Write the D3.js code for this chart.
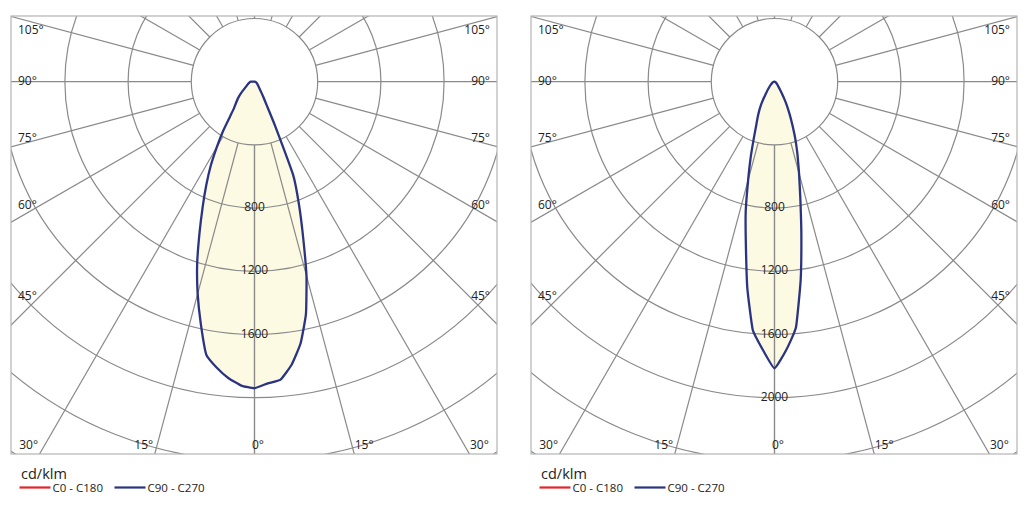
<!DOCTYPE html>
<html><head><meta charset="utf-8">
<script src="https://cdn.jsdelivr.net/npm/d3@7"></script>
<style>
body{margin:0;background:#fff}
svg{display:block}
text{font-family:'Open Sans',sans-serif;fill:#222}
</style>
</head><body>
<svg id="chart" width="1030" height="507"></svg>
<script>
// ---- data ----
const angles = [0,2.5,5,7.5,10,12.5,15,17.5,20,22.5,25,27.5,30,32.5,35,37.5,40,45,50,60,75,90];
// left diagram (cd/klm)
const leftC270 = [1940,1925,1884,1826,1755,1570,1390,1207,1017,857,722,600,476,370,272,215,188,147,110,62,38,25];
const leftC90  = [1940,1911,1893,1805,1681,1505,1271,1019,820,640,310,165,112,80,60,48,40,30,24,16,8,0];
// right diagram (cd/klm)
const rightC270 = [1814,1698,1578,1318,1044,842,645,501,385,305,255,212,172,135,102,80,65,45,32,18,8,0];
const rightC90  = [1814,1700,1560,1268,979,755,600,484,385,295,225,170,120,80,60,45,35,25,18,10,5,0];

const ringValues = [400,800,1200,1600,2000,2400,2800];
const leftRingLabels = [800,1200,1600];
const rightRingLabels = [800,1200,1600,2000];
const spokeAngles = [0,15,30,45,60,75,90,105,120,135,150,165,180];
const sideLabelAngles = [105,90,75,60,45];
const bottomLabelAngles = [30,15];
const unitLabel = "cd/klm";
const legendNames = ["C0 - C180","C90 - C270"];
const legendColors = ["#e0262c","#2b3482"];

// ---- layout ----
const svg = d3.select("#chart");
const frame = {x:11, y:16, w:486, h:438};
const centerOff = {x:243.5, y:65.7};
const rScale = d3.scaleLinear().domain([0,2000]).range([0,316]);
const gridColor = "#8a8a8a";
const rad = d => d*Math.PI/180;

const panels = [
  {dx:0, c270:leftC270, c90:leftC90, ringLabels:leftRingLabels, id:"L"},
  {dx:520, c270:rightC270, c90:rightC90, ringLabels:rightRingLabels, id:"R"}
];

panels.forEach(p => {
  const g = svg.append("g").attr("transform", `translate(${p.dx},0)`);
  const cx = frame.x + centerOff.x, cy = frame.y + centerOff.y;
  const pt = (theta, side, r) => [cx + side*r*Math.sin(rad(theta)), cy + r*Math.cos(rad(theta))];

  g.append("clipPath").attr("id","clip"+p.id).append("rect")
    .attr("x",frame.x).attr("y",frame.y).attr("width",frame.w).attr("height",frame.h);

  // light distribution fill
  const pts = [];
  for (let i = angles.length-1; i >= 0; i--) pts.push(pt(angles[i], -1, rScale(p.c270[i])));
  for (let i = 1; i < angles.length; i++) pts.push(pt(angles[i], 1, rScale(p.c90[i])));
  const line = d3.line().curve(d3.curveCardinal.tension(0.6));
  const d = line(pts) + "Z";
  g.append("path").attr("d", d).attr("fill","#fcfae3").attr("stroke","none");

  // grid
  const grid = g.append("g").attr("clip-path",`url(#clip${p.id})`);
  grid.selectAll("circle").data(ringValues).join("circle")
    .attr("cx",cx).attr("cy",cy).attr("r",v=>rScale(v))
    .attr("fill","none").attr("stroke",gridColor).attr("stroke-width",1.2);
  [-1,1].forEach(side => {
    grid.selectAll(null).data(spokeAngles).join("line")
      .attr("x1",a=>pt(a,side,rScale(400))[0]).attr("y1",a=>pt(a,side,rScale(400))[1])
      .attr("x2",a=>pt(a,side,rScale(3600))[0]).attr("y2",a=>pt(a,side,rScale(3600))[1])
      .attr("stroke",gridColor).attr("stroke-width",1.2);
  });

  // frame
  g.append("rect").attr("x",frame.x).attr("y",frame.y).attr("width",frame.w).attr("height",frame.h)
    .attr("fill","none").attr("stroke","#b4b4b4").attr("stroke-width",1.2);

  // curve outline
  g.append("path").attr("d", d).attr("fill","none").attr("stroke",legendColors[1])
    .attr("stroke-width",2.3).attr("stroke-linejoin","round");

  // ring labels
  const fs = 12;
  g.selectAll(null).data(p.ringLabels).join("text")
    .attr("x",cx).attr("y",v=>cy+rScale(v)-1.5).attr("text-anchor","middle")
    .attr("dominant-baseline","central").attr("font-size",fs).text(v=>v);

  // side angle labels
  sideLabelAngles.forEach(a => {
    const cot = Math.cos(rad(a))/Math.sin(rad(a));
    const dist = cx - (frame.x + 17);
    let y = cy + dist*cot + 3 - 11*cot;
    y = Math.max(y, frame.y + 18);
    g.append("text").attr("x",frame.x+7).attr("y",y).attr("font-size",fs).text(a+"°");
    g.append("text").attr("x",frame.x+frame.w-7).attr("y",y).attr("text-anchor","end").attr("font-size",fs).text(a+"°");
  });
  // bottom angle labels
  const by = frame.y + frame.h - 5.5;
  const bottomR = a => (frame.y + frame.h - cy) / Math.cos(rad(a));
  bottomLabelAngles.forEach(a => {
    const sx = bottomR(a)*Math.sin(rad(a));
    g.append("text").attr("x",cx - sx - 1.5).attr("y",by).attr("text-anchor","end").attr("font-size",fs).text(a+"°");
    g.append("text").attr("x",cx + sx + 0.5).attr("y",by).attr("text-anchor","start").attr("font-size",fs).text(a+"°");
  });
  g.append("text").attr("x",cx-2.5).attr("y",by).attr("font-size",fs).text("0°");

  // legend
  g.append("text").attr("x",21).attr("y",479).attr("font-size",14.5).text(unitLabel);
  const items = [{x:19.5, name:legendNames[0], color:legendColors[0]},{x:114.5, name:legendNames[1], color:legendColors[1]}];
  items.forEach(it => {
    g.append("line").attr("x1",it.x).attr("x2",it.x+31).attr("y1",487.5).attr("y2",487.5)
      .attr("stroke",it.color).attr("stroke-width",2.2);
    g.append("text").attr("x",it.x+33).attr("y",491.5).attr("font-size",11.5).text(it.name);
  });
});
</script>
</body></html>
